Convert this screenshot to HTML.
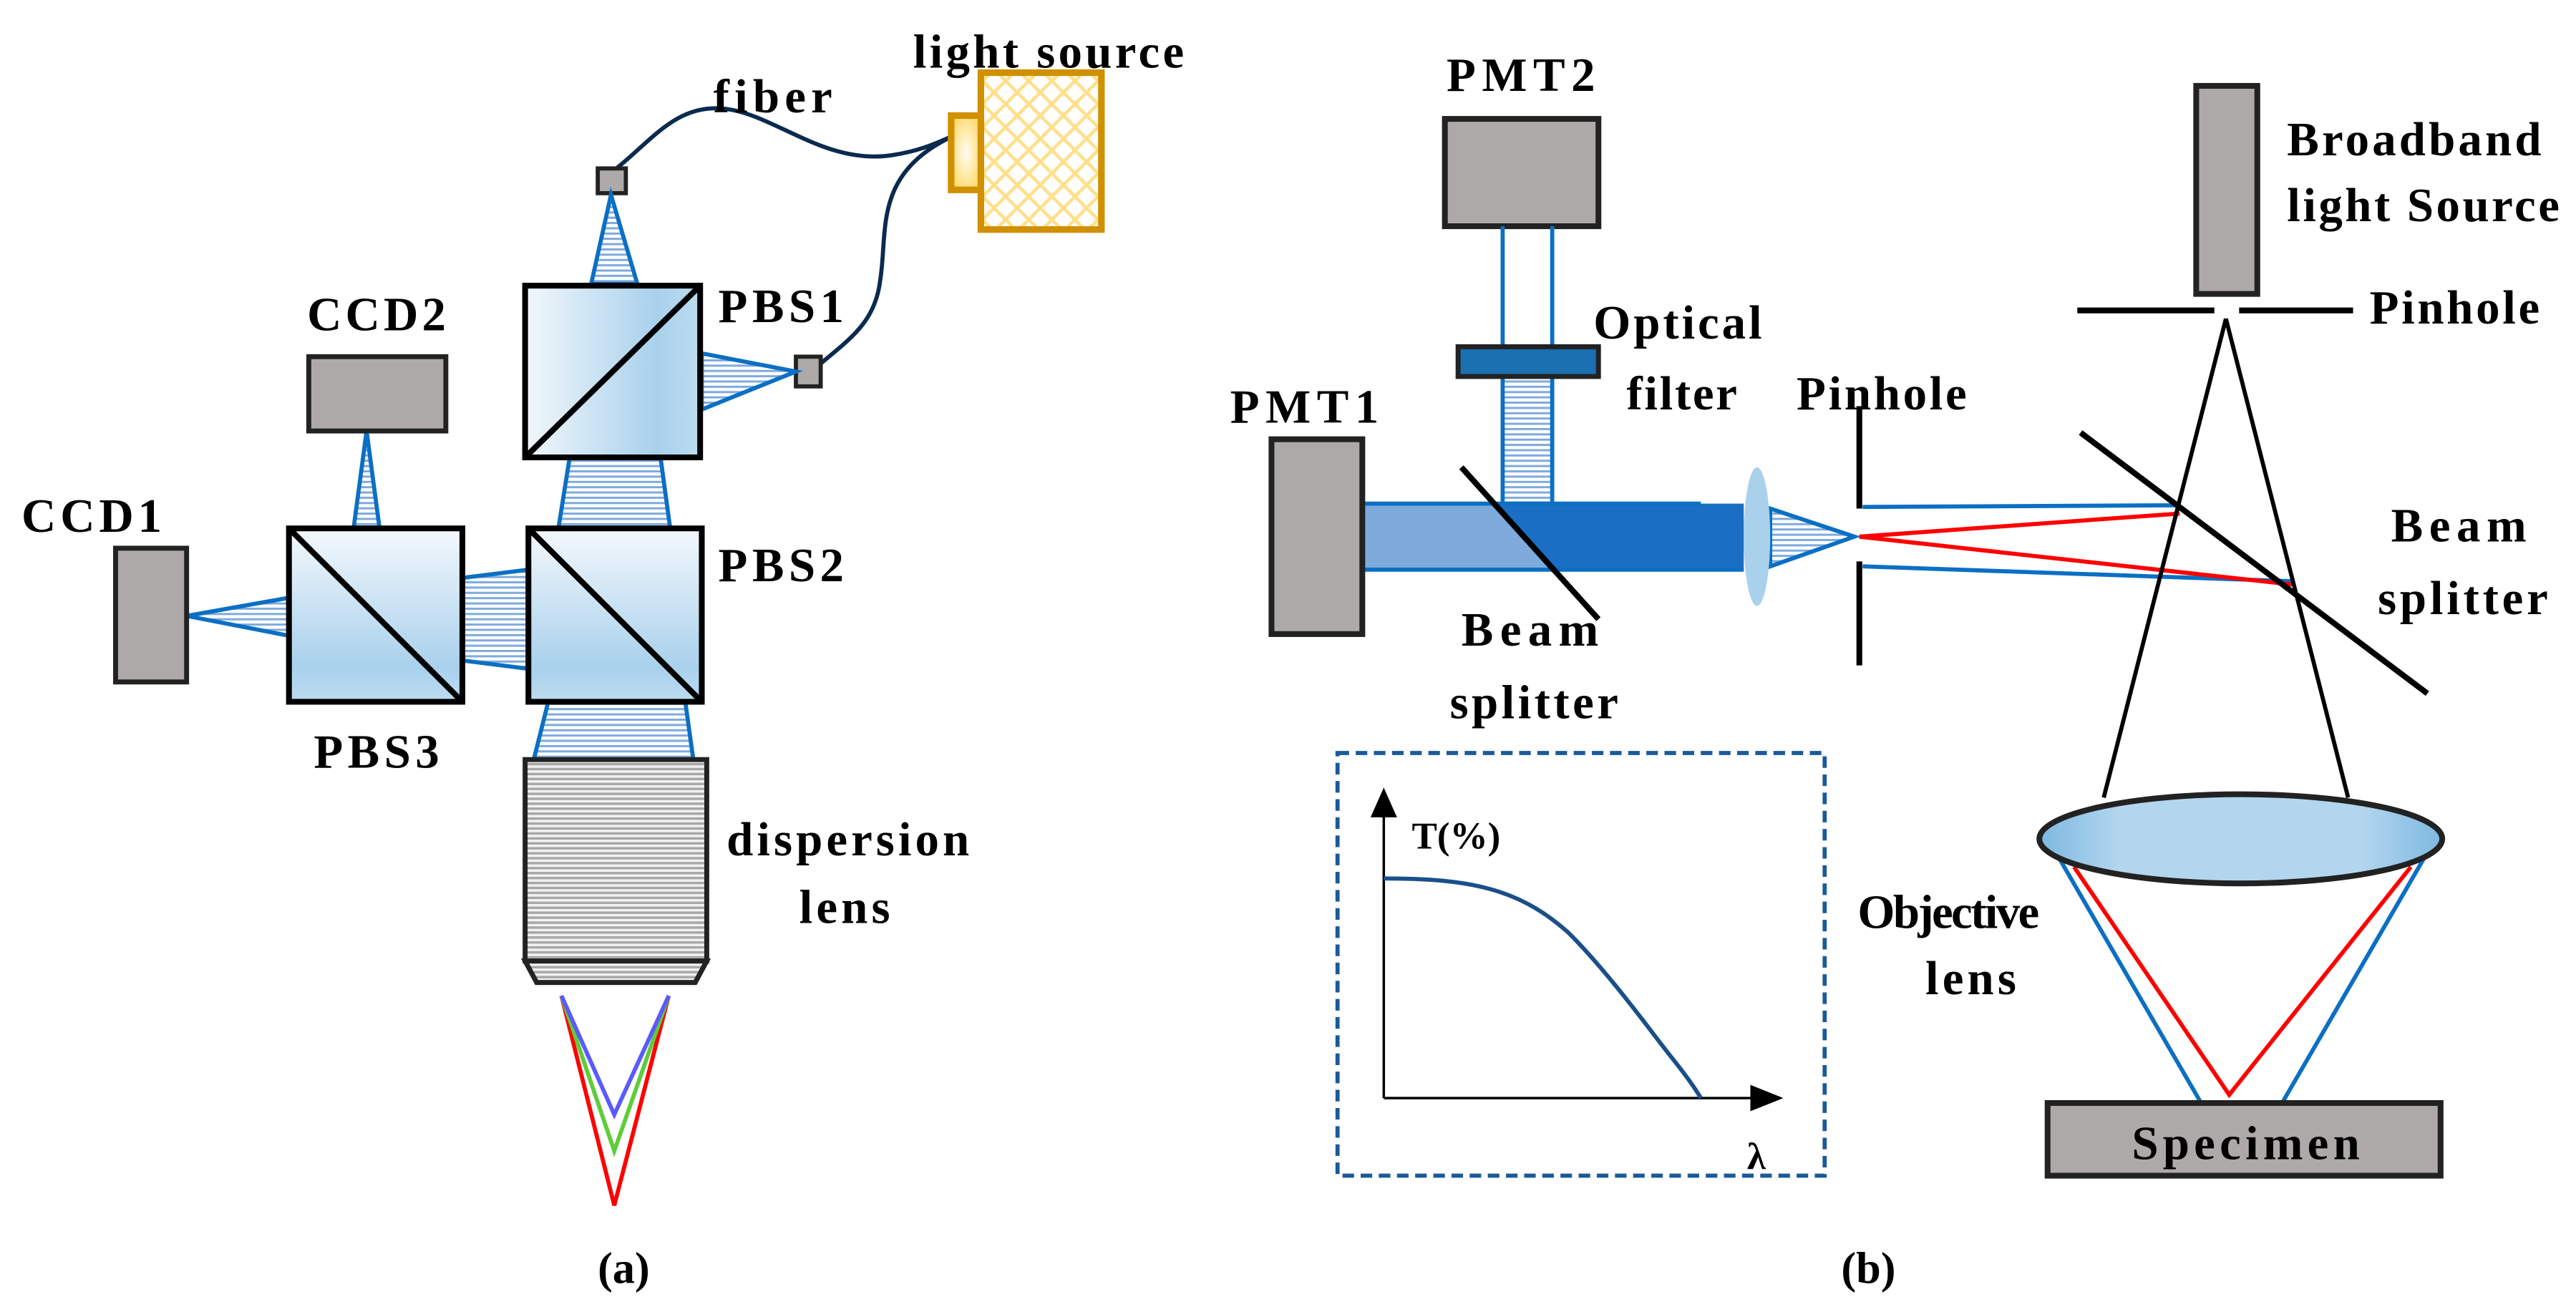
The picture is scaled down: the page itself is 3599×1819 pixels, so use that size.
<!DOCTYPE html>
<html><head><meta charset="utf-8"><style>
html,body{margin:0;padding:0;background:#fff;}
svg{display:block;}
text{font-family:"Liberation Serif","Times New Roman",serif;font-weight:bold;fill:#000;}
</style></head><body>
<svg width="3599" height="1819" viewBox="0 0 1560 788.5" preserveAspectRatio="none" xmlns="http://www.w3.org/2000/svg">
<defs>
<linearGradient id="cubeH" x1="0" y1="0" x2="1" y2="0">
<stop offset="0" stop-color="#f2f7fb"/><stop offset="0.75" stop-color="#a9d1ec"/><stop offset="1" stop-color="#bcdcf0"/></linearGradient>
<linearGradient id="cubeV" x1="0" y1="0" x2="0" y2="1">
<stop offset="0" stop-color="#f4f8fc"/><stop offset="0.8" stop-color="#a9d1ec"/><stop offset="1" stop-color="#bcdcf0"/></linearGradient>
<pattern id="hatch" width="4" height="3.2" patternUnits="userSpaceOnUse">
<rect width="4" height="3.2" fill="#fff"/><rect y="0" width="4" height="1.3" fill="#7faadc"/></pattern>
<pattern id="gray" width="4" height="3" patternUnits="userSpaceOnUse">
<rect width="4" height="3" fill="#f2f2f2"/><rect width="4" height="1.5" fill="#a8a8a8"/></pattern>
<pattern id="diam" width="14" height="14" patternUnits="userSpaceOnUse">
<rect width="14" height="14" fill="#fff"/><path d="M0 0L14 14M14 0L0 14" stroke="#ffe08a" stroke-width="2"/></pattern>
<radialGradient id="glow" cx="0.5" cy="0.5" r="0.6"><stop offset="0" stop-color="#fffdf5"/><stop offset="1" stop-color="#ffd862"/></radialGradient>
<linearGradient id="lensG" x1="0" y1="0" x2="1" y2="0"><stop offset="0" stop-color="#7db8e0"/><stop offset="0.2" stop-color="#b3d6ef"/><stop offset="0.8" stop-color="#b3d6ef"/><stop offset="1" stop-color="#7db8e0"/></linearGradient>
</defs>

<!-- ===== Panel (a) ===== -->
<path d="M372 103 C395 85 410 62 440 66 C470 70 500 100 540 94 C560 91 570 85 578 82" fill="none" stroke="#0b2a4f" stroke-width="2.5"/>
<path d="M496 221 C515 205 530 195 533 170 C538 140 528 105 578 82" fill="none" stroke="#0b2a4f" stroke-width="2.5"/>
<rect x="594" y="44" width="73" height="95" fill="url(#diam)" stroke="#d09000" stroke-width="4"/>
<rect x="576" y="70" width="18" height="45" fill="url(#glow)" stroke="#d09000" stroke-width="4"/>
<rect x="362" y="102" width="17" height="15" fill="#ada9a8" stroke="#222" stroke-width="2.5"/>
<rect x="482" y="216" width="15" height="18" fill="#ada9a8" stroke="#222" stroke-width="2.5"/>
<polygon points="370,118 358,172 386,172" fill="url(#hatch)" stroke="#0b6fc4" stroke-width="2.5"/>
<polygon points="425,214 482,225 425,248" fill="url(#hatch)" stroke="#0b6fc4" stroke-width="2.5"/>
<polygon points="345,277 400,277 406,321 338,321" fill="url(#hatch)" stroke="#0b6fc4" stroke-width="2.5"/>
<polygon points="280,350 320,345 320,405 280,400" fill="url(#hatch)" stroke="#0b6fc4" stroke-width="2.5"/>
<polygon points="222,261 214,321 230,321" fill="url(#hatch)" stroke="#0b6fc4" stroke-width="2.5"/>
<polygon points="113,373 175,362 175,385" fill="url(#hatch)" stroke="#0b6fc4" stroke-width="2.5"/>
<polygon points="332,425 415,425 420,461 323,461" fill="url(#hatch)" stroke="#0b6fc4" stroke-width="2.5"/>
<rect x="318" y="173" width="106" height="104" fill="url(#cubeH)" stroke="#000" stroke-width="3.5"/>
<line x1="318" y1="277" x2="424" y2="173" stroke="#000" stroke-width="3.5"/>
<rect x="320" y="320" width="105" height="105" fill="url(#cubeV)" stroke="#000" stroke-width="3.5"/>
<line x1="320" y1="320" x2="425" y2="425" stroke="#000" stroke-width="3.5"/>
<rect x="175" y="320" width="105" height="105" fill="url(#cubeV)" stroke="#000" stroke-width="3.5"/>
<line x1="175" y1="320" x2="280" y2="425" stroke="#000" stroke-width="3.5"/>
<rect x="187" y="216" width="83" height="45" fill="#ada9a8" stroke="#222" stroke-width="3"/>
<rect x="70" y="332" width="43" height="81" fill="#ada9a8" stroke="#222" stroke-width="3"/>
<rect x="318" y="460" width="110" height="122" fill="url(#gray)" stroke="#222" stroke-width="3"/>
<polygon points="318,582 428,582 421,595 325,595" fill="url(#gray)" stroke="#222" stroke-width="3"/>
<polyline points="340,603 372,730 405,603" fill="none" stroke="#ff0000" stroke-width="2.5"/>
<polyline points="340,603 372,697 405,603" fill="none" stroke="#5fcc3a" stroke-width="2.5"/>
<polyline points="340,603 372,675 405,603" fill="none" stroke="#5a5aff" stroke-width="2.5"/>
<text x="553" y="41" font-size="29" textLength="164">light source</text>
<text x="432" y="68" font-size="29" textLength="72">fiber</text>
<text x="435" y="195" font-size="29" textLength="76">PBS1</text>
<text x="186" y="200" font-size="29" textLength="84">CCD2</text>
<text x="13" y="322" font-size="29" textLength="85">CCD1</text>
<text x="435" y="352" font-size="29" textLength="76">PBS2</text>
<text x="190" y="465" font-size="29" textLength="76">PBS3</text>
<text x="440" y="518" font-size="29" textLength="147">dispersion</text>
<text x="484" y="559" font-size="29" textLength="55">lens</text>
<text x="362" y="777" font-size="27">(a)</text>

<!-- ===== Panel (b) ===== -->
<rect x="875" y="72" width="93" height="65" fill="#ada9a8" stroke="#222" stroke-width="3.5"/>
<line x1="910" y1="137" x2="910" y2="210" stroke="#0b6fc4" stroke-width="2.5"/>
<line x1="940" y1="137" x2="940" y2="210" stroke="#0b6fc4" stroke-width="2.5"/>
<rect x="910" y="228" width="30" height="77" fill="url(#hatch)" stroke="#0b6fc4" stroke-width="2.5"/>
<rect x="883" y="210" width="85" height="18" fill="#1a6fb0" stroke="#222" stroke-width="3"/>
<rect x="825" y="305" width="231" height="40" fill="#1a6fc4"/>
<polygon points="825,305 903,305 939,345 825,345" fill="#7eaadc"/>
<line x1="825" y1="305" x2="1030" y2="305" stroke="#0b6fc4" stroke-width="2.5"/>
<line x1="825" y1="345" x2="1056" y2="345" stroke="#0b6fc4" stroke-width="2.5"/>
<line x1="885" y1="283" x2="968" y2="375" stroke="#000" stroke-width="3.5"/>
<rect x="770" y="266" width="55" height="118" fill="#ada9a8" stroke="#222" stroke-width="3.5"/>
<polygon points="1072,308 1123,325 1072,343" fill="url(#hatch)" stroke="#0b6fc4" stroke-width="2.5"/>
<ellipse cx="1064" cy="325" rx="8" ry="42" fill="#a9d1ec"/>
<line x1="1126" y1="246" x2="1126" y2="308" stroke="#000" stroke-width="3.5"/>
<line x1="1126" y1="340" x2="1126" y2="403" stroke="#000" stroke-width="3.5"/>
<line x1="1128" y1="307" x2="1320" y2="306" stroke="#0b6fc4" stroke-width="2.5"/>
<line x1="1128" y1="343" x2="1388" y2="352" stroke="#0b6fc4" stroke-width="2.5"/>
<polyline points="1320,311 1126,325 1388,354" fill="none" stroke="#ff0000" stroke-width="2.5"/>
<rect x="1330" y="52" width="37" height="126" fill="#ada9a8" stroke="#222" stroke-width="3.5"/>
<line x1="1258" y1="188" x2="1341" y2="188" stroke="#000" stroke-width="3.5"/>
<line x1="1356" y1="188" x2="1425" y2="188" stroke="#000" stroke-width="3.5"/>
<line x1="1348" y1="193" x2="1274" y2="483" stroke="#000" stroke-width="2.5"/>
<line x1="1348" y1="193" x2="1422" y2="483" stroke="#000" stroke-width="2.5"/>
<line x1="1260" y1="262" x2="1470" y2="420" stroke="#000" stroke-width="3.5"/>
<line x1="1246" y1="518" x2="1333" y2="668" stroke="#0b6fc4" stroke-width="2.5"/>
<line x1="1469" y1="518" x2="1382" y2="668" stroke="#0b6fc4" stroke-width="2.5"/>
<polyline points="1256,525 1350,663 1460,525" fill="none" stroke="#ff0000" stroke-width="2.5"/>
<ellipse cx="1357" cy="508" rx="122" ry="27" fill="url(#lensG)" stroke="#222" stroke-width="3.5"/>
<rect x="1240" y="668" width="238" height="44" fill="#ada9a8" stroke="#222" stroke-width="3.5"/>
<rect x="810" y="456" width="295" height="256" fill="none" stroke="#1a5a9a" stroke-width="2.5" stroke-dasharray="7,4"/>
<line x1="838" y1="492" x2="838" y2="665" stroke="#000" stroke-width="1.5"/>
<polygon points="838,477 830,495 846,495" fill="#000"/>
<line x1="838" y1="665" x2="1062" y2="665" stroke="#000" stroke-width="1.5"/>
<polygon points="1080,665 1060,657 1060,673" fill="#000"/>
<path d="M838 532 C890 532 920 538 950 565 C975 590 1000 625 1012 640 C1020 650 1026 658 1030 665" fill="none" stroke="#1a4f8a" stroke-width="2.5"/>
<text x="876" y="55" font-size="29" textLength="90">PMT2</text>
<text x="745" y="256" font-size="29" textLength="90">PMT1</text>
<text x="965" y="205" font-size="29" textLength="102">Optical</text>
<text x="985" y="248" font-size="29" textLength="67">filter</text>
<text x="1088" y="248" font-size="29" textLength="103">Pinhole</text>
<text x="885" y="391" font-size="29" textLength="83">Beam</text>
<text x="878" y="435" font-size="29" textLength="102">splitter</text>
<text x="1385" y="94" font-size="29" textLength="154">Broadband</text>
<text x="1385" y="134" font-size="29" textLength="165">light Source</text>
<text x="1435" y="196" font-size="29" textLength="103">Pinhole</text>
<text x="1448" y="328" font-size="29" textLength="82">Beam</text>
<text x="1440" y="372" font-size="29" textLength="103">splitter</text>
<text x="1125" y="562" font-size="29" textLength="110">Objective</text>
<text x="1166" y="602" font-size="29" textLength="55">lens</text>
<text x="1291" y="702" font-size="29" textLength="138">Specimen</text>
<text x="855" y="514" font-size="23">T(%)</text>
<text x="1058" y="708" font-size="23">λ</text>
<text x="1115" y="777" font-size="27">(b)</text>
</svg>
</body></html>
